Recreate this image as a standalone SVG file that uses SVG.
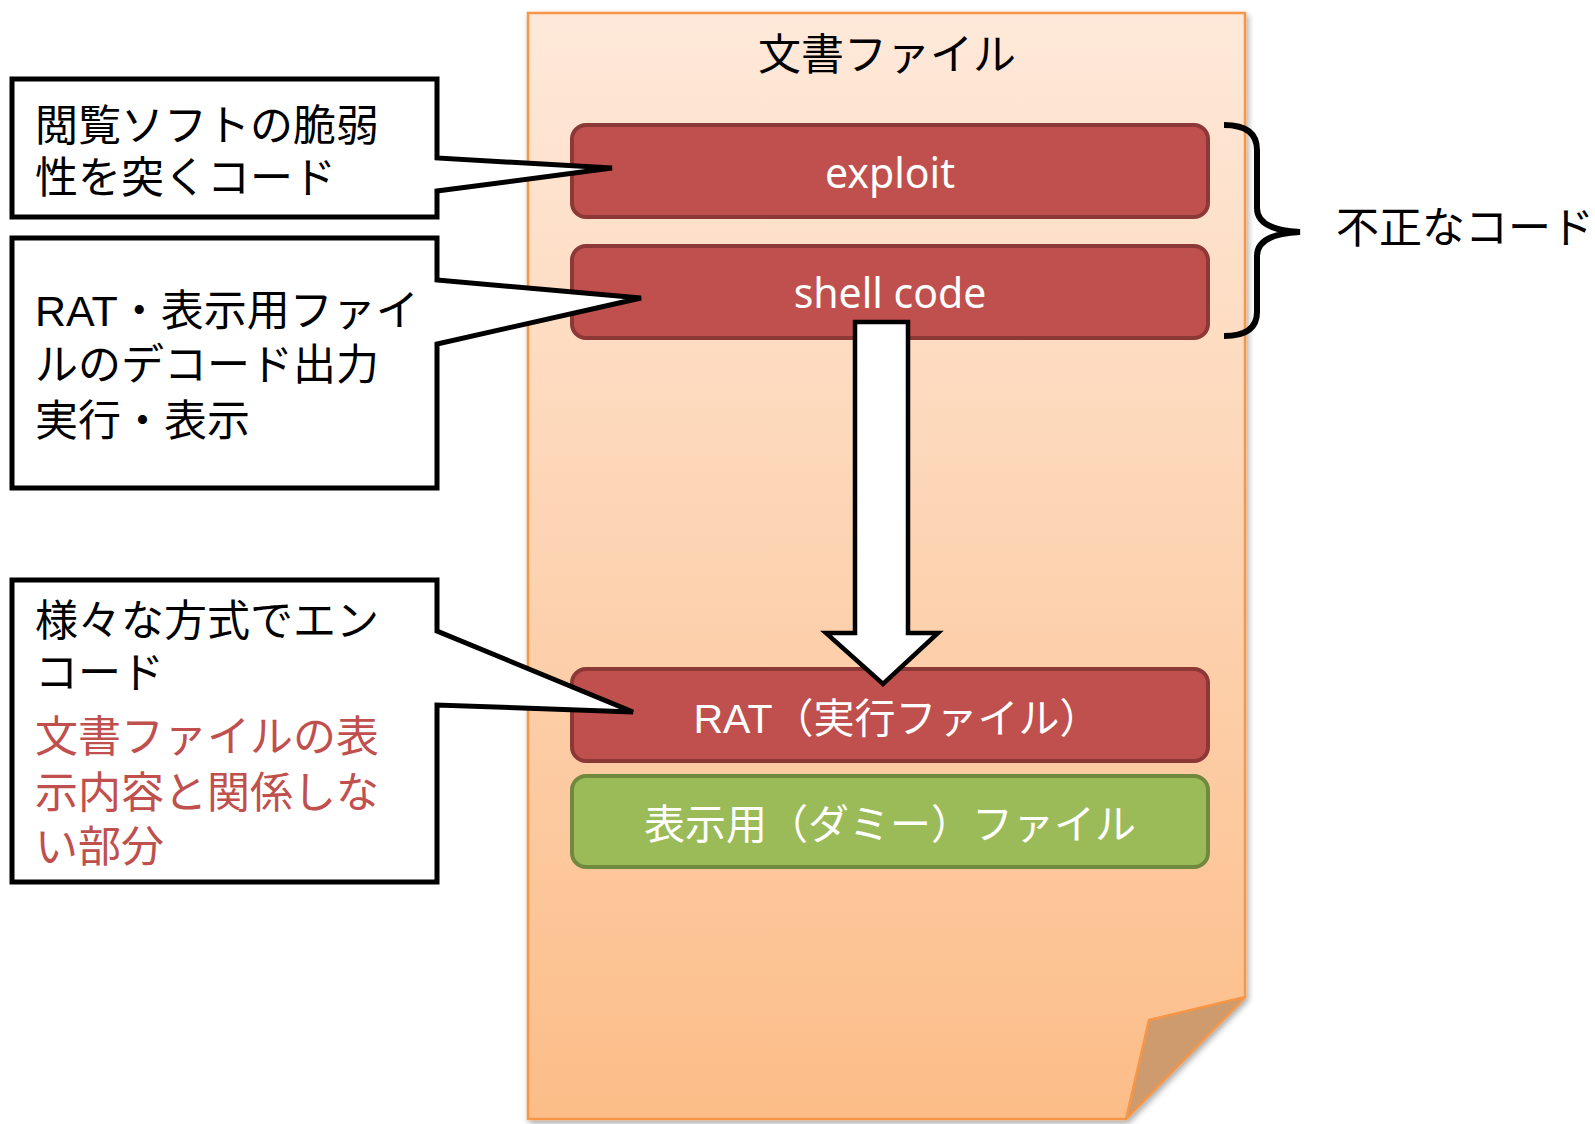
<svg xmlns="http://www.w3.org/2000/svg" width="1595" height="1124" viewBox="0 0 1595 1124">
<defs>
<linearGradient id="docg" x1="0" y1="0" x2="0" y2="1">
<stop offset="0" stop-color="#FEE9DA"/>
<stop offset="1" stop-color="#FCBD88"/>
</linearGradient>
<filter id="sh" x="-5%" y="-5%" width="110%" height="110%">
<feGaussianBlur in="SourceAlpha" stdDeviation="3"/>
<feOffset dx="2" dy="3" result="b"/>
<feComponentTransfer><feFuncA type="linear" slope="0.35"/></feComponentTransfer>
<feMerge><feMergeNode/><feMergeNode in="SourceGraphic"/></feMerge>
</filter>
</defs>
<style>
.jp{font-family:"Liberation Sans","Noto Sans CJK JP",sans-serif;}
.lat{font-family:"Noto Sans","Noto Sans CJK JP",sans-serif;}
.red{fill:#C0504D;stroke:#8C3836;stroke-width:4;}
.green{fill:#9BBB59;stroke:#71893F;stroke-width:4;}
.call{fill:#FFFFFF;stroke:#000000;stroke-width:5;stroke-linejoin:miter;}
.wt{fill:#FFFFFF;font-size:41px;text-anchor:middle;}
.bt{fill:#000000;font-size:43px;}
.rt{fill:#C0504D;}
</style>

<g id="document">
<path d="M528,13 H1245 V997 L1126,1119 H528 Z" fill="url(#docg)" stroke="#F79646" stroke-width="2.5" filter="url(#sh)"/>
<path d="M1245,997 L1149,1020 L1126,1119 Z" fill="#CD9B6E" stroke="#F79646" stroke-width="2.5" stroke-linejoin="round"/>
<text class="jp bt" x="887" y="70" text-anchor="middle" font-size="42">文書ファイル</text>
</g>

<g id="exploit">
<rect class="red" x="572" y="125" width="636" height="92" rx="14"/>
<text class="lat wt" x="890" y="188">exploit</text>
</g>

<g id="shellcode">
<rect class="red" x="572" y="246" width="636" height="92" rx="14"/>
<text class="lat wt" x="890" y="308">shell code</text>
</g>

<g id="rat">
<rect class="red" x="572" y="669" width="636" height="92" rx="14"/>
<text class="jp wt" x="897" y="733" font-size="40">RAT（実行ファイル）</text>
</g>

<g id="dummy">
<rect class="green" x="572" y="776" width="636" height="91" rx="14"/>
<text class="jp wt" x="890" y="839" font-size="40">表示用（ダミー）ファイル</text>
</g>

<g id="connectors">
<path d="M855,322 H908 V633 H938 L883,684 L826,633 H855 Z" fill="#FFFFFF" stroke="#000000" stroke-width="4.5" stroke-linejoin="miter"/>
<path d="M1224,125 Q1257,125 1257,150 V208 Q1257,230 1300,232 Q1257,234 1257,256 V312 Q1257,336 1224,336" fill="none" stroke="#000000" stroke-width="6"/>
</g>

<g id="callout1">
<path class="call" d="M12,79 H437 V158 L612,168 L437,191 V217 H12 Z"/>
<text class="jp bt" x="35" y="141">閲覧ソフトの脆弱<tspan x="35" dy="52">性を突くコード</tspan></text>
</g>

<g id="callout2">
<path class="call" d="M12,238 H437 V280 L641,298 L437,344 V488 H12 Z"/>
<text class="jp bt" x="35" y="326">RAT・表示用ファイ<tspan x="35" dy="54">ルのデコード出力</tspan><tspan x="35" dy="56">実行・表示</tspan></text>
</g>

<g id="callout3">
<path class="call" d="M12,580 H437 V631 L633,712 L437,705 V882 H12 Z"/>
<text class="jp bt" x="35" y="636">様々な方式でエン<tspan x="35" dy="52">コード</tspan><tspan class="rt" x="35" dy="64">文書ファイルの表</tspan><tspan class="rt" x="35" dy="56">示内容と関係しな</tspan><tspan class="rt" x="35" dy="54">い部分</tspan></text>
</g>

<g id="label">
<text class="jp bt" x="1336" y="243" font-size="42">不正なコード</text>
</g>
</svg>
